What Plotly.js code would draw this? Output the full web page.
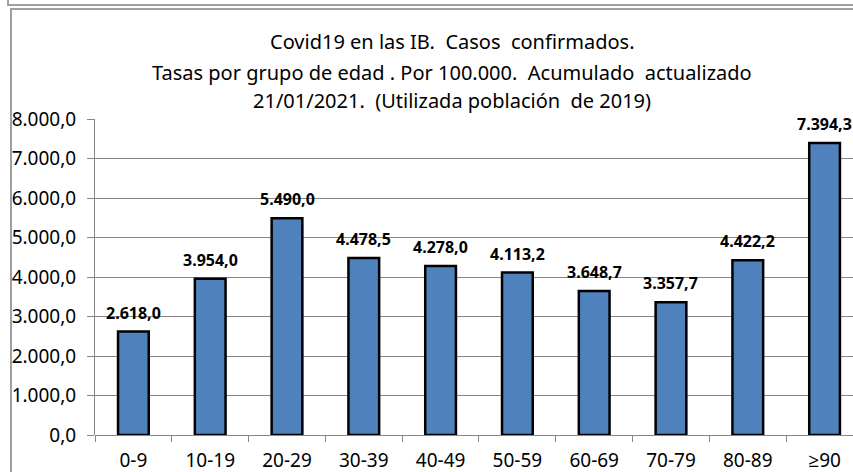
<!DOCTYPE html>
<html>
<head>
<meta charset="utf-8">
<script src="https://cdn.plot.ly/plotly-3.0.1.min.js"></script>
<style>
html,body{margin:0;padding:0;background:#fff;}
#wrap{position:relative;width:853px;height:472px;overflow:hidden;}
#chart{position:absolute;left:0;top:0;width:853px;height:472px;}
.fr{position:absolute;background:#a0a0a0;pointer-events:none;}
</style>
</head>
<body>
<div id="wrap">
<div id="chart"></div>
<div class="fr" style="left:7px;top:0;width:2px;height:6px;"></div>
<div class="fr" style="left:7px;top:4px;width:846px;height:2px;"></div>
<div class="fr" style="left:10px;top:8px;width:2px;height:464px;"></div>
<div class="fr" style="left:10px;top:8px;width:843px;height:2px;"></div>
</div>
<script>
const categories = ["0-9","10-19","20-29","30-39","40-49","50-59","60-69","70-79","80-89","\u226590"];
const values = [2618.0, 3954.0, 5490.0, 4478.5, 4278.0, 4113.2, 3648.7, 3357.7, 4422.2, 7394.3];
const titleLines = [
  "Covid19 en las IB.  Casos  confirmados.",
  "Tasas por grupo de edad . Por 100.000.  Acumulado  actualizado",
  "21/01/2021.  (Utilizada población  de 2019)"
];
const yTickValues = [0,1000,2000,3000,4000,5000,6000,7000,8000];

function fmt(v){
  const parts = v.toFixed(1).split(".");
  const intp = parts[0].replace(/\B(?=(\d{3})+(?!\d))/g, ".");
  return intp + "," + parts[1];
}

const FONT = "Noto Sans, Open Sans, sans-serif";

const trace = {
  type: "bar",
  x: categories,
  y: values,
  width: 0.40,
  marker: {color: "#4F81BD", line: {color: "#000000", width: 2.5}},
  hoverinfo: "none"
};

const annotations = categories.map((c,i)=>({
  x: c, y: values[i], xref: "x", yref: "y",
  text: "<b>" + fmt(values[i]) + "</b>",
  showarrow: false, yanchor: "middle", yshift: 19,
  font: {family: FONT, size: 16, color: "#000"}
}));

const titleY = [1.2437, 1.1487, 1.057];
titleLines.forEach((t,i)=>{
  annotations.push({
    x: 0.471, y: titleY[i], xref: "paper", yref: "paper",
    text: t, showarrow: false, xanchor: "center", yanchor: "middle",
    font: {family: FONT, size: 20, color: "#000"}
  });
});

const layout = {
  width: 853, height: 472,
  margin: {l: 95, r: 0, t: 119, b: 37},
  paper_bgcolor: "#fff", plot_bgcolor: "#fff",
  separators: ",.",
  showlegend: false,
  bargap: 0.6,
  xaxis: {
    type: "category",
    range: [-0.5, 9.37],
    tickson: "boundaries",
    ticks: "outside", ticklen: 6, tickcolor: "#868686", tickwidth: 1,
    showgrid: false, showline: false, zeroline: false,
    tickfont: {family: FONT, size: 19, color: "#000"},
    ticklabelstandoff: 12,
    fixedrange: true
  },
  yaxis: {
    range: [0, 8000],
    tickvals: yTickValues,
    tickformat: ",.1f",
    ticks: "outside", ticklen: 7, tickcolor: "#868686", tickwidth: 1,
    showgrid: true, gridcolor: "#868686", gridwidth: 1,
    showline: true, linecolor: "#868686", linewidth: 1,
    zeroline: true, zerolinecolor: "#868686", zerolinewidth: 1,
    tickfont: {family: FONT, size: 19, color: "#000"},
    ticklabelstandoff: 7,
    fixedrange: true
  },
  annotations: annotations
};

Plotly.newPlot("chart", [trace], layout, {displayModeBar: false, staticPlot: true});
</script>
</body>
</html>
